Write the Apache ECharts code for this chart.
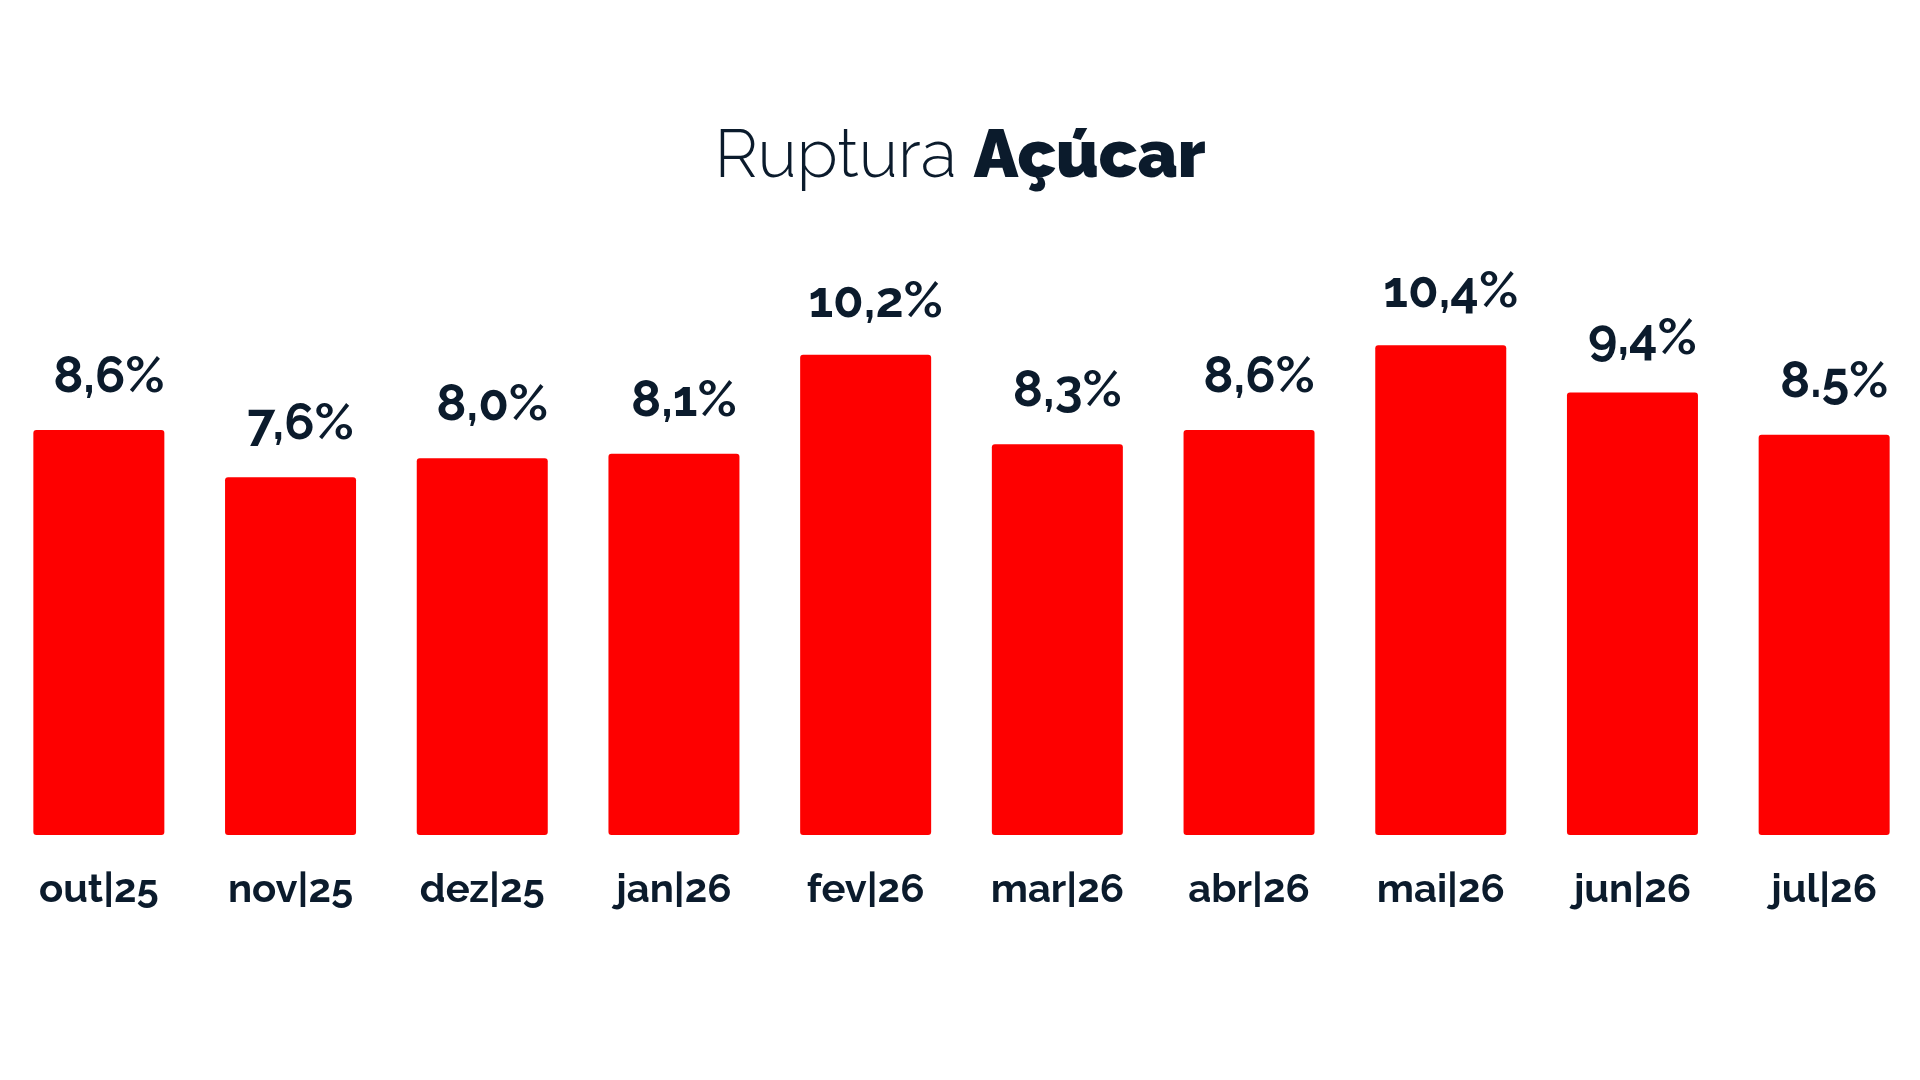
<!DOCTYPE html>
<html>
  <head>
    <meta charset="utf-8" />
    <title>Ruptura Açúcar</title>
    <script src="https://cdn.jsdelivr.net/npm/echarts@6/dist/echarts.min.js"></script>
    <style>
      html, body { margin: 0; padding: 0; background: #ffffff; }
      #main { width: 1920px; height: 1080px; }
    </style>
  </head>
  <body>
    <div id="main"></div>
    <script type="text/javascript">
        // dados do gráfico
        var meses = ['out|25', 'nov|25', 'dez|25', 'jan|26', 'fev|26', 'mar|26', 'abr|26', 'mai|26', 'jun|26', 'jul|26'];
        var ruptura = [8.6, 7.6, 8.0, 8.1, 10.2, 8.3, 8.6, 10.4, 9.4, 8.5];
        var rotulos = ['8,6%', '7,6%', '8,0%', '8,1%', '10,2%', '8,3%', '8,6%', '10,4%', '9,4%', '8.5%'];

        var corTexto = '#0b1b2c';
        var fonte = 'Raleway, Lato, "Noto Sans", sans-serif';

        var myChart = echarts.init(document.getElementById('main'));

        var option = {
            backgroundColor: '#ffffff',
            animation: false,
            title: {
                left: 'center',
                top: 118,
                text: '{a|Ruptura }{b|Açúcar}',
                textStyle: {
                    rich: {
                        a: { fontFamily: fonte, fontSize: 67, fontWeight: 300, color: corTexto, lineHeight: 67 },
                        b: { fontFamily: fonte, fontSize: 67, fontWeight: 900, color: corTexto, lineHeight: 67 }
                    }
                }
            },
            grid: {
                left: 3,
                right: -8,
                top: 270,
                bottom: 245,
                containLabel: false
            },
            xAxis: {
                type: 'category',
                data: meses,
                axisLine: { show: false },
                axisTick: { show: false },
                axisLabel: {
                    margin: 35,
                    fontFamily: fonte,
                    fontSize: 40,
                    fontWeight: 'bold',
                    color: corTexto,
                    interval: 0
                }
            },
            yAxis: {
                type: 'value',
                min: 0,
                max: 12,
                show: false,
                splitLine: { show: false }
            },
            series: [{
                name: 'Ruptura',
                type: 'bar',
                barWidth: 131,
                data: ruptura,
                itemStyle: {
                    color: '#fe0000',
                    borderRadius: 3
                },
                label: {
                    show: true,
                    position: 'top',
                    distance: 28,
                    offset: [10, 0],
                    fontFamily: fonte,
                    fontSize: 50,
                    fontWeight: 'bold',
                    color: corTexto,
                    formatter: function (p) {
                        return rotulos[p.dataIndex];
                    }
                }
            }]
        };

        myChart.setOption(option);
    </script>
  </body>
</html>
